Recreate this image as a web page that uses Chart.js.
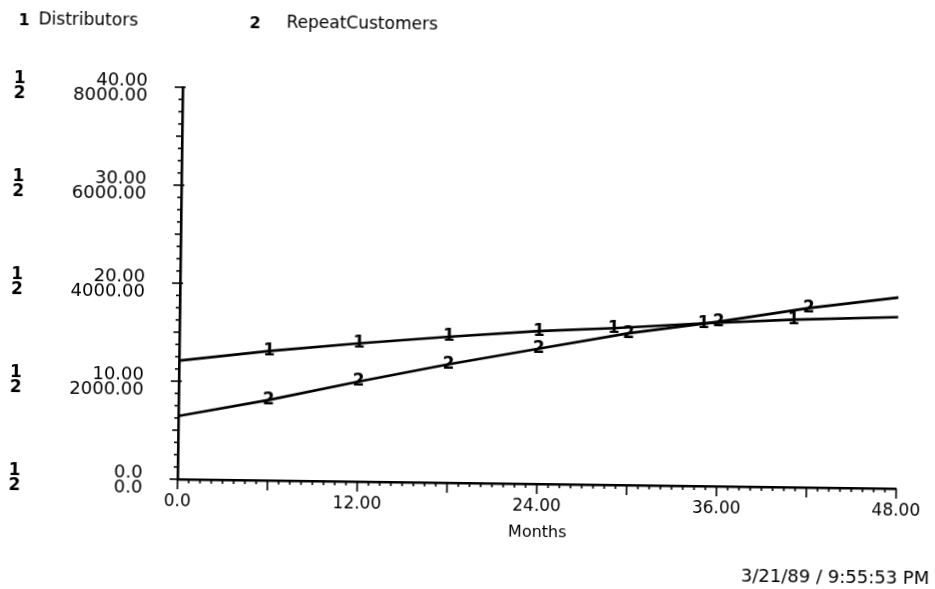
<!DOCTYPE html>
<html>
<head>
<meta charset="utf-8">
<title>Distributors / RepeatCustomers</title>
<script src="https://cdn.jsdelivr.net/npm/chart.js@4/dist/chart.umd.min.js"></script>
<style>
    html, body { margin: 0; padding: 0; background: #fff; overflow: hidden; }
    #plot { display: block; transform: rotate(0.75deg); transform-origin: 50% 50%; }
</style>
</head>
<body>
<canvas id="plot" width="935" height="589"></canvas>
<script>
// values (months on x)
const distMonths = [0, 6, 12, 18, 24, 29, 35, 41, 48];
const distributors = [12.1, 13.2, 14.1, 14.9, 15.6, 16.0, 16.6, 17.1, 17.5];
const custMonths = [0, 6, 12, 18, 24, 30, 36, 42, 48];
const repeatCustomers = [1290, 1640, 2040, 2420, 2760, 3100, 3360, 3660, 3900];

const xTickLabels = ['0.0', '12.00', '24.00', '36.00', '48.00'];
const yTickLabels1 = ['0.0', '10.00', '20.00', '30.00', '40.00'];
const yTickLabels2 = ['0.0', '2000.00', '4000.00', '6000.00', '8000.00'];
const seriesNames = ['Distributors', 'RepeatCustomers'];
const stamp = '3/21/89 / 9:55:53 PM';

const FONT = '"DejaVu Sans", sans-serif';

// axis tick marks, y labels, series numbers and the free text
const decorPlugin = {
    id: 'decor',
    afterDraw(chart) {
        const ctx = chart.ctx;
        const x = chart.scales.x;
        const y = chart.scales.y;
        ctx.save();
        ctx.strokeStyle = '#000';
        ctx.fillStyle = '#000';
        ctx.lineWidth = 1.6;

        // x ticks: minor every 0.75 month, long every 6
        for (let i = 0; i <= 64; i++) {
            const px = x.getPixelForValue(i * 0.75);
            const len = (i % 8 === 0) ? 10 : 4;
            ctx.beginPath();
            ctx.moveTo(px, x.top);
            ctx.lineTo(px, x.top + len);
            ctx.stroke();
        }

        // y ticks: minor every 1.25
        for (let i = 0; i <= 32; i++) {
            const py = y.getPixelForValue(i * 1.25);
            let left = 4, right = 0;
            if (i % 8 === 0) { left = 8; right = 3; }
            else if (i % 4 === 0) { left = 6; }
            ctx.beginPath();
            ctx.moveTo(y.right - left, py);
            ctx.lineTo(y.right + right, py);
            ctx.stroke();
        }

        // two-line y labels with bold series numbers in front
        ctx.textBaseline = 'middle';
        y.ticks.forEach((t, i) => {
            const py = y.getPixelForValue(t.value) + 1.5;
            ctx.font = 'bold 17px ' + FONT;
            ctx.textAlign = 'center';
            ctx.fillText('1', 17, py - 7.5);
            ctx.fillText('2', 17, py + 7.5);
            ctx.font = '18px ' + FONT;
            ctx.textAlign = 'right';
            ctx.fillText(yTickLabels1[i], 145, py - 7.5);
            ctx.fillText(yTickLabels2[i], 145, py + 7.5);
        });

        // numbers along the curves
        ctx.font = 'bold 17px ' + FONT;
        ctx.textAlign = 'center';
        chart.data.datasets.forEach((ds, di) => {
            const meta = chart.getDatasetMeta(di);
            meta.data.forEach((pt, k) => {
                if (k === 0 || k === meta.data.length - 1) return;
                ctx.fillText(String(di + 1), pt.x, pt.y);
            });
        });

        // legend
        ctx.textAlign = 'left';
        ctx.font = 'bold 16px ' + FONT;
        ctx.fillText('1', 15, 27);
        ctx.fillText('2', 246, 27);
        ctx.font = '17px ' + FONT;
        ctx.fillText(seriesNames[0], 35, 26);
        ctx.fillText(seriesNames[1], 283, 26);

        // axis title and time stamp
        ctx.textAlign = 'center';
        ctx.font = '16px ' + FONT;
        ctx.fillText('Months', (x.left + x.right) / 2 + 1, 532);
        ctx.textAlign = 'right';
        ctx.font = '18px ' + FONT;
        ctx.fillText(stamp, 933, 573);
        ctx.restore();
    }
};

Chart.defaults.font.family = FONT;
Chart.defaults.color = '#000';

new Chart(document.getElementById('plot'), {
    type: 'line',
    data: {
        datasets: [
            {
                label: seriesNames[0],
                data: distMonths.map((m, i) => ({ x: m, y: distributors[i] })),
                yAxisID: 'y',
                borderColor: '#000',
                borderWidth: 2.6,
                pointRadius: 0,
                tension: 0
            },
            {
                label: seriesNames[1],
                data: custMonths.map((m, i) => ({ x: m, y: repeatCustomers[i] })),
                yAxisID: 'y2',
                borderColor: '#000',
                borderWidth: 2.6,
                pointRadius: 0,
                tension: 0
            }
        ]
    },
    options: {
        responsive: false,
        animation: false,
        devicePixelRatio: 1,
        layout: { padding: { top: 91, right: 36, bottom: 0, left: 0 } },
        plugins: {
            legend: { display: false },
            tooltip: { enabled: false }
        },
        scales: {
            x: {
                type: 'linear',
                min: 0,
                max: 48,
                afterFit: (s) => { s.height = 106; },
                grid: { display: false, drawTicks: false },
                border: { display: true, color: '#000', width: 2.6 },
                ticks: {
                    stepSize: 12,
                    padding: 12,
                    maxRotation: 0,
                    font: { size: 17 },
                    callback: (v, i) => xTickLabels[i]
                }
            },
            y: {
                position: 'left',
                min: 0,
                max: 40,
                afterFit: (s) => { s.width = 180; },
                grid: { display: false, drawTicks: false },
                border: { display: true, color: '#000', width: 2.6 },
                ticks: {
                    stepSize: 10,
                    display: false
                }
            },
            y2: {
                display: false,
                min: 0,
                max: 8000
            }
        }
    },
    plugins: [decorPlugin]
});
</script>
</body>
</html>
